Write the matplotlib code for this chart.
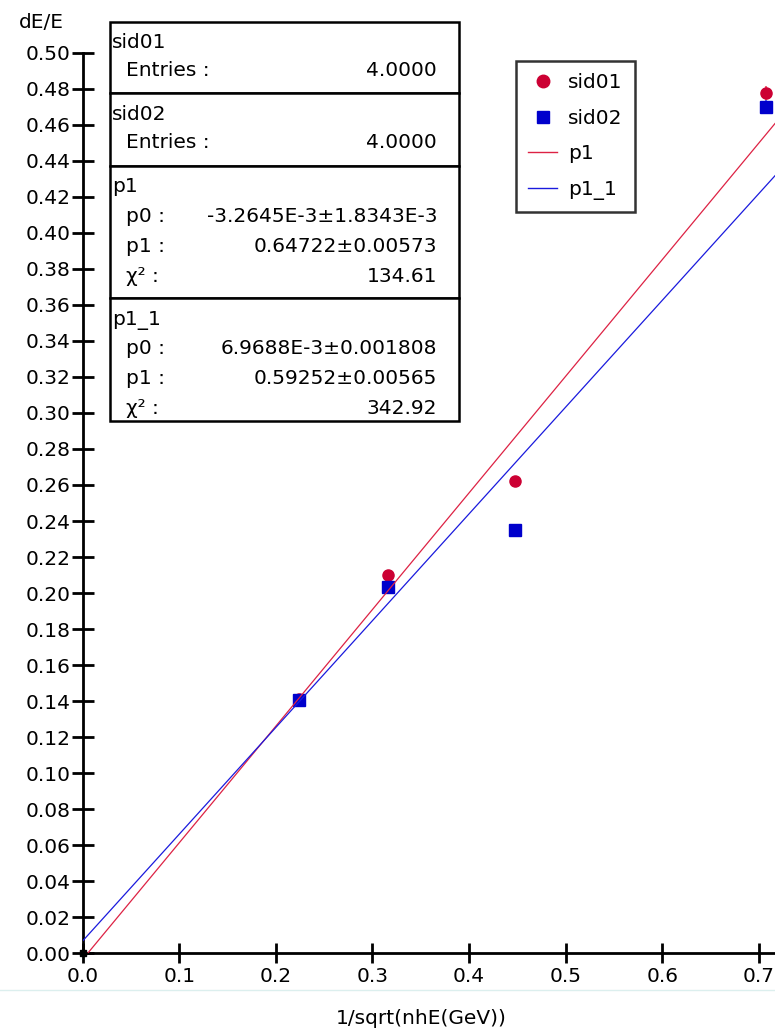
import numpy as np
import matplotlib
matplotlib.use("Agg")
import matplotlib.pyplot as plt
from matplotlib.lines import Line2D

plt.rcParams['font.family'] = ['DejaVu Sans']

# data
x_pts = [0.2236, 0.3162, 0.4472, 0.7071]
sid01 = [0.1410, 0.2102, 0.2622, 0.4774]
sid02 = [0.1407, 0.2036, 0.2350, 0.4697]
sid01_err = [0.001, 0.001, 0.001, 0.004]
sid02_err = [0.001, 0.001, 0.001, 0.004]

# fit parameters shown in the stats box
p1_params = [-3.2645e-3, 0.64722]
p1_1_params = [6.9688e-3, 0.59252]

x_ticks = [0.0, 0.1, 0.2, 0.3, 0.4, 0.5, 0.6, 0.7]
y_ticks = [round(0.02 * i, 2) for i in range(26)]

red = '#cc0033'
blue = '#0000cc'
red_line = '#dd2244'
blue_line = '#1a1add'
FS = 14.5

fig = plt.figure(figsize=(7.75, 10.32), dpi=100)
ax = fig.add_axes([0.1067, 0.0761, 0.8933, 0.873])

xx = np.array([0.0, 0.72])
ax.plot(xx, p1_params[0] + p1_params[1] * xx, color=red_line, lw=0.9, zorder=4)
ax.plot(xx, p1_1_params[0] + p1_1_params[1] * xx, color=blue_line, lw=0.9, zorder=4)

ax.errorbar(x_pts, sid01, yerr=sid01_err, fmt='o', color=red, ms=8,
            ecolor='#ee6677', elinewidth=1.5, capsize=0, zorder=3)
ax.errorbar(x_pts, sid02, yerr=sid02_err, fmt='s', color=blue, ms=8,
            ecolor='#6666ee', elinewidth=1.5, capsize=0, zorder=3)
ax.plot([0.0], [0.0], 's', color='black', ms=5, zorder=5, clip_on=False)

ax.set_xlim(0, 0.7167)
ax.set_ylim(0, 0.5)
ax.set_xticks(x_ticks)
ax.set_xticklabels([f"{v:.1f}" for v in x_ticks])
ax.set_yticks(y_ticks)
ax.set_yticklabels([f"{v:.2f}" for v in y_ticks])
for s in ['top', 'right']:
    ax.spines[s].set_visible(False)
for s in ['left', 'bottom']:
    ax.spines[s].set_linewidth(2)
ax.tick_params(axis='x', direction='inout', length=14, width=2, labelsize=FS, pad=3)
ax.tick_params(axis='y', direction='inout', length=16, width=2, labelsize=FS, pad=1)

fig.text(0.024, 0.978, "dE/E", fontsize=FS, ha='left', va='center')
fig.text(0.543, 0.013, "1/sqrt(nhE(GeV))", fontsize=FS, ha='center', va='center')
fig.add_artist(Line2D([0, 1], [1 - 990 / 1032] * 2, color='#dcefee', lw=1))

# stats box
W, H = 775.0, 1032.0
def fx(px):
    return px / W
def fy(py):
    return 1 - py / H

bx0, bx1 = 110, 459
seps = [22, 93, 166, 298, 421]
for i in range(len(seps) - 1):
    r = plt.Rectangle((fx(bx0), fy(seps[i + 1])), fx(bx1) - fx(bx0),
                      fy(seps[i]) - fy(seps[i + 1]), transform=fig.transFigure,
                      fill=True, facecolor='white', edgecolor='black', lw=1.8, zorder=10)
    fig.add_artist(r)

rows = [
    (42, "sid01", None, None),
    (70, None, "Entries :", "4.0000"),
    (115, "sid02", None, None),
    (143, None, "Entries :", "4.0000"),
    (187, "p1", None, None),
    (216, None, "p0 :", "-3.2645E-3\u00b11.8343E-3"),
    (246, None, "p1 :", "0.64722\u00b10.00573"),
    (276, None, "\u03c7\u00b2 :", "134.61"),
    (321, "p1_1", None, None),
    (349, None, "p0 :", "6.9688E-3\u00b10.001808"),
    (379, None, "p1 :", "0.59252\u00b10.00565"),
    (409, None, "\u03c7\u00b2 :", "342.92"),
]
for py, head, lab, val in rows:
    if head:
        fig.text(fx(112), fy(py), head, fontsize=FS, ha='left', va='center', zorder=11)
    else:
        fig.text(fx(126), fy(py), lab, fontsize=FS, ha='left', va='center', zorder=11)
        fig.text(fx(437), fy(py), val, fontsize=FS, ha='right', va='center', zorder=11)

# legend
handles = [
    Line2D([], [], marker='o', ls='none', color=red, ms=9),
    Line2D([], [], marker='s', ls='none', color=blue, ms=9),
    Line2D([], [], color=red_line, lw=1),
    Line2D([], [], color=blue_line, lw=1),
]
leg = fig.legend(handles, ["sid01", "sid02", "p1", "p1_1"], loc='upper left',
                 bbox_to_anchor=(fx(516), fy(61)), fontsize=FS, frameon=True,
                 fancybox=False, edgecolor='black', handlelength=1.45,
                 borderpad=0.6, labelspacing=0.82, handletextpad=0.55,
                 borderaxespad=0)
leg.get_frame().set_linewidth(1.8)

fig.savefig("out.png", dpi=100)
